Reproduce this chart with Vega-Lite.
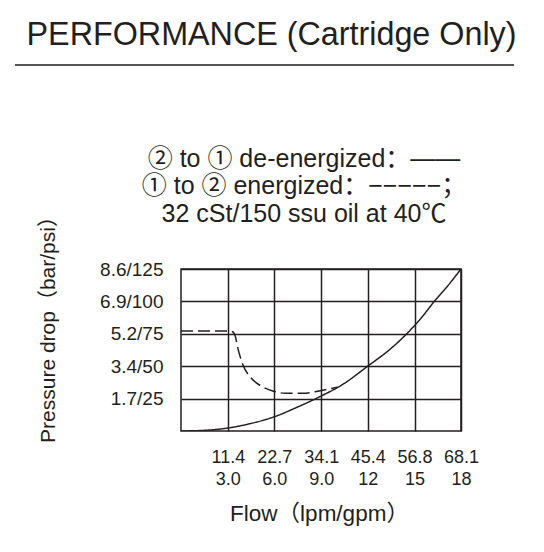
{
  "$schema": "https://vega.github.io/schema/vega-lite/v6.json",
  "background": "white",
  "padding": {"left": 14, "top": 18, "right": 0, "bottom": 0},
  "config": {
    "font": "Liberation Sans, Noto Sans CJK SC",
    "view": {"stroke": null},
    "title": {"color": "#231f20", "fontWeight": "normal"},
    "axis": {"labelColor": "#231f20", "titleColor": "#231f20", "titleFontWeight": "normal"}
  },
  "center": false,
  "spacing": 79,
  "vconcat": [
    {
      "width": 499,
      "height": 1,
      "title": {"text": "PERFORMANCE (Cartridge Only)", "fontSize": 32.3, "anchor": "middle", "offset": 13, "dx": 7},
      "data": {"values": [{"level": 0}]},
      "mark": {"type": "rule", "color": "#555555", "strokeWidth": 2},
      "encoding": {
        "y": {"field": "level", "type": "quantitative", "axis": null, "scale": {"domain": [0, 1]}}
      }
    },
    {
      "spacing": 20,
      "hconcat": [
        {
          "width": 1,
          "height": 1,
          "data": {"values": [{}]},
          "mark": {"type": "rule", "opacity": 0},
          "encoding": {}
        },
        {
          "width": 280,
          "height": 162,
          "view": {"stroke": "#231f20", "strokeWidth": 1.5},
          "title": {
            "text": ["② to ① de-energized：——", "① to ② energized：−−−−−；", "32 cSt/150 ssu oil at 40℃"],
            "fontSize": 25,
            "lineHeight": 27.5,
            "anchor": "middle",
            "frame": "group",
            "dx": -17,
            "offset": -21
          },
          "data": {
            "values": [
              {"mode": "de-energized", "lpm": 0, "psi": 0},
              {"mode": "de-energized", "lpm": 5, "psi": 0.4},
              {"mode": "de-energized", "lpm": 11.4, "psi": 2.3},
              {"mode": "de-energized", "lpm": 17, "psi": 5.8},
              {"mode": "de-energized", "lpm": 22.7, "psi": 11},
              {"mode": "de-energized", "lpm": 28, "psi": 18},
              {"mode": "de-energized", "lpm": 32.8, "psi": 25},
              {"mode": "de-energized", "lpm": 39.6, "psi": 36.5},
              {"mode": "de-energized", "lpm": 45.4, "psi": 50},
              {"mode": "de-energized", "lpm": 51, "psi": 63.5},
              {"mode": "de-energized", "lpm": 55.2, "psi": 76},
              {"mode": "de-energized", "lpm": 58.5, "psi": 87.5},
              {"mode": "de-energized", "lpm": 61.6, "psi": 100},
              {"mode": "de-energized", "lpm": 65, "psi": 112.5},
              {"mode": "de-energized", "lpm": 68.1, "psi": 125},
              {"mode": "energized", "lpm": 0, "psi": 77.2},
              {"mode": "energized", "lpm": 11.7, "psi": 77.2},
              {"mode": "energized", "lpm": 12.65, "psi": 76.4},
              {"mode": "energized", "lpm": 13.2, "psi": 73.3},
              {"mode": "energized", "lpm": 13.8, "psi": 64.3},
              {"mode": "energized", "lpm": 15.0, "psi": 51.5},
              {"mode": "energized", "lpm": 17.0, "psi": 41.1},
              {"mode": "energized", "lpm": 19.5, "psi": 34.7},
              {"mode": "energized", "lpm": 22.3, "psi": 30.9},
              {"mode": "energized", "lpm": 25.5, "psi": 29.1},
              {"mode": "energized", "lpm": 29.6, "psi": 29.1},
              {"mode": "energized", "lpm": 33.6, "psi": 30.9},
              {"mode": "energized", "lpm": 38.1, "psi": 33.9}
            ]
          },
          "mark": {"type": "line", "color": "#231f20", "strokeWidth": 1.5, "interpolate": "monotone", "clip": true},
          "encoding": {
            "x": {
              "field": "lpm",
              "type": "quantitative",
              "scale": {"domain": [0, 68.1], "nice": false},
              "axis": {
                "values": [11.4, 22.7, 34.1, 45.4, 56.8, 68.1],
                "grid": true,
                "gridColor": "#231f20",
                "gridOpacity": 1,
                "gridWidth": 1.5,
                "domain": false,
                "ticks": false,
                "labelFontSize": 18,
                "labelPadding": 17,
                "labelLineHeight": 22,
                "labelFlush": false,
                "labelOverlap": false,
                "labelBaseline": "top",
                "labelExpr": "[format(datum.value, '.1f'), datum.value < 12 ? '3.0' : datum.value < 23 ? '6.0' : datum.value < 35 ? '9.0' : datum.value < 46 ? '12' : datum.value < 57 ? '15' : '18']",
                "title": "Flow（lpm/gpm）",
                "titleFontSize": 22.5,
                "titlePadding": 14,
                "titleX": 138
              }
            },
            "y": {
              "field": "psi",
              "type": "quantitative",
              "scale": {"domain": [0, 125], "nice": false},
              "axis": {
                "values": [25, 50, 75, 100, 125],
                "grid": true,
                "gridColor": "#231f20",
                "gridOpacity": 1,
                "gridWidth": 1.5,
                "domain": false,
                "ticks": false,
                "labelFontSize": 19,
                "labelPadding": 18,
                "labelOverlap": false,
                "labelFlush": false,
                "labelExpr": "datum.value == 25 ? '1.7/25' : datum.value == 50 ? '3.4/50' : datum.value == 75 ? '5.2/75' : datum.value == 100 ? '6.9/100' : '8.6/125'",
                "title": "Pressure drop（bar/psi）",
                "titleFontSize": 21,
                "titlePadding": 41,
                "titleY": 55
              }
            },
            "strokeDash": {
              "field": "mode",
              "type": "nominal",
              "scale": {"domain": ["de-energized", "energized"], "range": [[1, 0], [12, 5]]},
              "legend": null
            }
          }
        }
      ]
    }
  ]
}
